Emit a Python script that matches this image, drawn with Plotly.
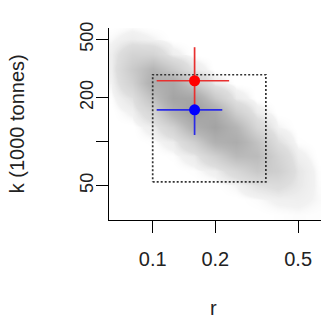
import plotly.graph_objects as go

# ---- data ----
# posterior cloud: approximate relative density on a grid (log10 r, log10 k)
LOG10_R_GRID = [-1.2, -1.1, -1.0, -0.9, -0.8, -0.7, -0.6, -0.5, -0.4, -0.3, -0.2]
LOG10_K_GRID = [1.5, 1.6, 1.7, 1.8, 1.9, 2.0, 2.1, 2.2, 2.3, 2.4, 2.5, 2.6, 2.7, 2.8]
CLOUD_DENSITY = [
    [0.00, 0.00, 0.00, 0.00, 0.00, 0.00, 0.00, 0.00, 0.008, 0.015, 0.010],   # 1.5
    [0.00, 0.00, 0.00, 0.00, 0.00, 0.00, 0.00, 0.015, 0.040, 0.045, 0.020],  # 1.6
    [0.00, 0.00, 0.00, 0.00, 0.00, 0.00, 0.03, 0.11, 0.15, 0.08, 0.015],     # 1.7
    [0.00, 0.00, 0.00, 0.00, 0.01, 0.05, 0.20, 0.38, 0.30, 0.09, 0.01],      # 1.8
    [0.00, 0.00, 0.00, 0.01, 0.07, 0.29, 0.55, 0.54, 0.25, 0.05, 0.00],      # 1.9
    [0.00, 0.00, 0.01, 0.06, 0.30, 0.68, 0.76, 0.45, 0.12, 0.01, 0.00],      # 2.0
    [0.00, 0.00, 0.06, 0.28, 0.73, 0.92, 0.62, 0.20, 0.03, 0.00, 0.00],      # 2.1
    [0.00, 0.04, 0.23, 0.69, 1.00, 0.79, 0.30, 0.06, 0.00, 0.00, 0.00],      # 2.2
    [0.01, 0.11, 0.48, 0.90, 0.86, 0.37, 0.07, 0.00, 0.00, 0.00, 0.00],      # 2.3
    [0.03, 0.28, 0.74, 0.79, 0.36, 0.06, 0.00, 0.00, 0.00, 0.00, 0.00],      # 2.4
    [0.05, 0.36, 0.62, 0.36, 0.07, 0.00, 0.00, 0.00, 0.00, 0.00, 0.00],      # 2.5
    [0.05, 0.24, 0.24, 0.05, 0.00, 0.00, 0.00, 0.00, 0.00, 0.00, 0.00],      # 2.6
    [0.02, 0.06, 0.03, 0.00, 0.00, 0.00, 0.00, 0.00, 0.00, 0.00, 0.00],      # 2.7
    [0.00, 0.01, 0.00, 0.00, 0.00, 0.00, 0.00, 0.00, 0.00, 0.00, 0.00],      # 2.8
]

# prior box (dotted rectangle)
PRIOR_R = [0.1, 0.35]
PRIOR_K = [53, 287]

# point estimates with intervals
RED_R, RED_K = 0.159, 261
RED_R_LO, RED_R_HI = 0.1045, 0.233
RED_K_LO, RED_K_HI = 165, 443
BLUE_R, BLUE_K = 0.159, 165
BLUE_R_LO, BLUE_R_HI = 0.1045, 0.216
BLUE_K_LO, BLUE_K_HI = 111, 165

X_TICKS = [0.1, 0.2, 0.5]
X_TICKTEXT = ["0.1", "0.2", "0.5"]
Y_TICKS = [50, 100, 200, 500]
Y_TICKTEXT = ["50", "", "200", "500"]

X_RANGE_LOG = [-1.210, -0.191]
Y_RANGE_LOG = [1.463, 2.778]

FONT = "Liberation Sans, Arial, sans-serif"

fig = go.Figure()

fig.add_trace(go.Heatmap(
    x=LOG10_R_GRID, y=LOG10_K_GRID, z=CLOUD_DENSITY,
    zsmooth="best", zmin=0, zmax=1, showscale=False, hoverinfo="skip",
    colorscale=[[0, "rgba(255,255,255,0)"], [0.03, "rgba(238,238,238,0.75)"],
                [0.12, "rgb(222,222,222)"], [0.35, "rgb(203,203,203)"],
                [0.6, "rgb(182,182,182)"], [1, "rgb(158,158,158)"]],
    xaxis="x", yaxis="y",
))

# dotted prior rectangle
fig.add_trace(go.Scatter(
    x=[PRIOR_R[0], PRIOR_R[1], PRIOR_R[1], PRIOR_R[0], PRIOR_R[0]],
    y=[PRIOR_K[0], PRIOR_K[0], PRIOR_K[1], PRIOR_K[1], PRIOR_K[0]],
    mode="lines", line=dict(color="#333333", width=1.7, dash="2px,2px"),
    xaxis="x2", yaxis="y2", hoverinfo="skip", showlegend=False,
))

def est(r, k, rlo, rhi, klo, khi, col, mcol):
    return go.Scatter(
        x=[r], y=[k], mode="markers",
        marker=dict(color=mcol, size=11, line=dict(width=0)),
        error_x=dict(type="data", symmetric=False, array=[rhi - r], arrayminus=[r - rlo],
                     color=col, thickness=1.7, width=0),
        error_y=dict(type="data", symmetric=False, array=[khi - k], arrayminus=[k - klo],
                     color=col, thickness=1.7, width=0),
        xaxis="x2", yaxis="y2", showlegend=False, hoverinfo="skip",
    )

fig.add_trace(est(RED_R, RED_K, RED_R_LO, RED_R_HI, RED_K_LO, RED_K_HI, "#e8302f", "#ff0000"))
fig.add_trace(est(BLUE_R, BLUE_K, BLUE_R_LO, BLUE_R_HI, BLUE_K_LO, BLUE_K_HI, "#2a2ae8", "#0000ff"))

fig.update_layout(
    width=321, height=321,
    margin=dict(l=109, r=0, t=28, b=101),
    paper_bgcolor="white", plot_bgcolor="white",
    showlegend=False,
    font=dict(family=FONT, size=19, color="black"),
    xaxis=dict(type="linear", range=X_RANGE_LOG, visible=False, fixedrange=True),
    yaxis=dict(type="linear", range=Y_RANGE_LOG, visible=False, fixedrange=True),
    xaxis2=dict(type="log", range=X_RANGE_LOG, overlaying="x", anchor="y2", side="bottom",
                showline=True, linecolor="black", linewidth=1.3, mirror=False,
                showgrid=False, zeroline=False,
                ticks="outside", ticklen=12, tickwidth=1.2, tickcolor="black",
                tickvals=X_TICKS, ticktext=X_TICKTEXT, tickangle=0,
                ticklabelstandoff=9,
                tickfont=dict(family=FONT, size=20, color="#222222")),
    yaxis2=dict(type="log", range=Y_RANGE_LOG, overlaying="y", anchor="x2", side="left",
                showline=True, linecolor="black", linewidth=1.3, mirror=False,
                showgrid=False, zeroline=False,
                ticks="outside", ticklen=12, tickwidth=1.2, tickcolor="black",
                tickvals=Y_TICKS, ticktext=Y_TICKTEXT, tickangle=-90,
                ticklabelstandoff=-4,
                tickfont=dict(family=FONT, size=18, color="#222222")),
    annotations=[
        dict(text="k (1000 tonnes)", textangle=-90, x=-0.43, y=0.503,
             xref="paper", yref="paper", xanchor="center", yanchor="middle",
             showarrow=False, font=dict(family=FONT, size=20, color="#222222")),
        dict(text="r", x=0.495, y=-0.458, xref="paper", yref="paper",
             xanchor="center", yanchor="middle", showarrow=False,
             font=dict(family=FONT, size=20, color="#222222")),
    ],
)

fig.write_html("out.html")
